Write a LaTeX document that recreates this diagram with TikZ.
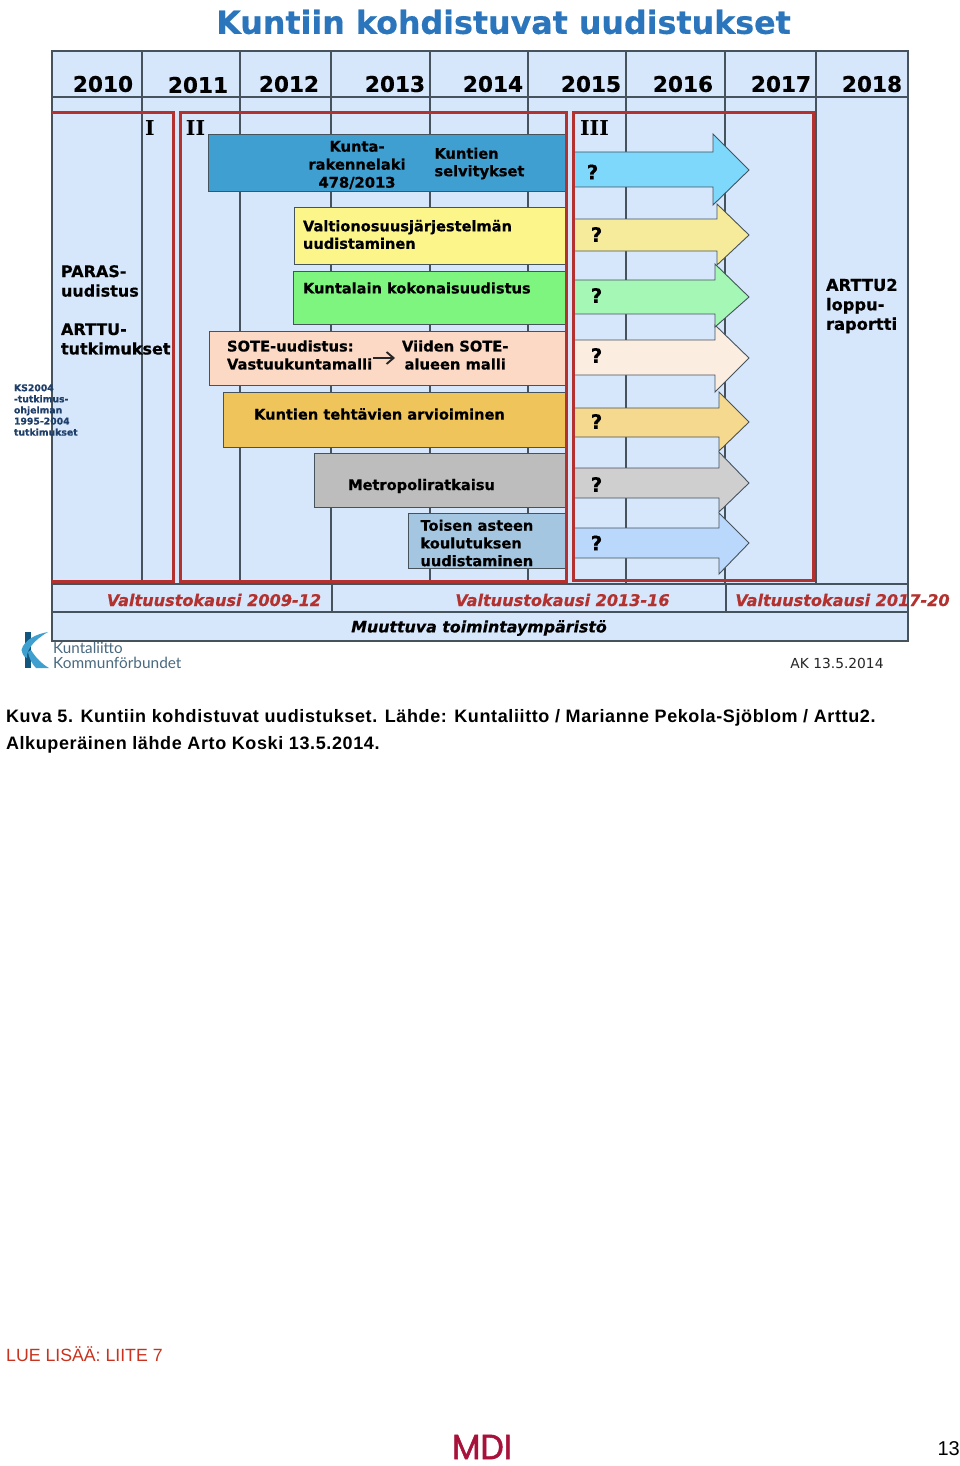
\documentclass[tikz,border=0pt]{standalone}
\usepackage{fontspec}
\usetikzlibrary{arrows.meta}
\setmainfont{DejaVu Sans}[BoldFeatures={FakeBold=0.5},BoldItalicFeatures={FakeBold=0.5}]
\newfontfamily\capfont{Liberation Sans}
\newfontfamily\capbold{Liberation Sans}[LetterSpace=3.4]
\newfontfamily\logofont{Lato}
\newfontfamily\mdifont{Poppins}[FakeBold=1.6,FakeStretch=0.94]
\definecolor{bgblue}{HTML}{D6E7FB}
\definecolor{gridc}{HTML}{46525C}
\definecolor{redf}{HTML}{B3322F}
\definecolor{titlec}{HTML}{2A75BB}
\definecolor{HBlue}{HTML}{3E9FD0}
\definecolor{HYellow}{HTML}{FBF58A}
\definecolor{HGreen}{HTML}{7EF57E}
\definecolor{HPeach}{HTML}{FBD9C5}
\definecolor{HGold}{HTML}{EFC55B}
\definecolor{HGray}{HTML}{BDBDBD}
\definecolor{HLight}{HTML}{A5C6E0}
\definecolor{AOne}{HTML}{7DD8FC}
\definecolor{ATwo}{HTML}{F6EB9B}
\definecolor{AThree}{HTML}{A5F7B5}
\definecolor{AFour}{HTML}{FBEDE0}
\definecolor{AFive}{HTML}{F5D98E}
\definecolor{ASix}{HTML}{CFCFCF}
\definecolor{ASeven}{HTML}{B9D8FB}
\definecolor{KSc}{HTML}{1F3F6B}
\definecolor{LogoD}{HTML}{12557F}
\definecolor{LogoL}{HTML}{3FA0CF}
\definecolor{LogoT}{HTML}{4A6A80}
\definecolor{LueC}{HTML}{C8321E}
\definecolor{MdiC}{HTML}{A8123A}
\newcommand{\fs}[1]{\fontsize{#1}{#1}\selectfont}
\tikzset{
  x=1pt,y=-1pt,
  gridline/.style={draw=gridc,line width=1.1pt},
  redframe/.style={draw=redf,line width=3pt,line join=miter},
  barbox/.style={draw=gridc,line width=0.9pt},
  bigarrow/.style={draw=gridc,line width=0.9pt,line join=miter},
  lab/.style={inner sep=0pt,outer sep=0pt,font=\bfseries\fs{14.6},align=left,text=black},
  yr/.style={inner sep=0pt,outer sep=0pt,font=\bfseries\fs{21.6}},
  qm/.style={inner sep=0pt,outer sep=0pt,font=\bfseries\fs{20}},
  romanlab/.style={inner sep=0pt,outer sep=0pt,font=\fontspec{DejaVu Serif}\bfseries\fs{20.5}},
  kausi/.style={inner sep=0pt,outer sep=0pt,font=\bfseries\itshape\fs{16.1},text=redf},
  captext/.style={inner sep=0pt,outer sep=0pt,anchor=west,font=\capbold\bfseries\fs{18}},
}
\begin{document}
\begin{tikzpicture}
\useasboundingbox (0,0) rectangle (960,1466);
\fill[white] (0,0) rectangle (960,1466);
% title
\node[inner sep=0pt,font=\bfseries\fs{31.7},text=titlec] (title) at (503.5,22) {Kuntiin kohdistuvat uudistukset};
% table
\fill[bgblue] (52,51) rectangle (908,641);
\foreach \xx in {142,240,331,430,528,626,725,816}{\draw[gridline] (\xx,51) -- (\xx,584);}
\draw[gridline] (52,51) rectangle (908,641);
\draw[gridline] (52,97) -- (908,97);
\draw[gridline] (52,584) -- (908,584);
\draw[gridline] (52,612) -- (908,612);
\draw[gridline] (332,584) -- (332,612);
\draw[gridline] (726,584) -- (726,612);
% years
\node[yr] (y10) at (103,84) {2010};
\node[yr] (y11) at (198,85) {2011};
\node[yr] (y12) at (289,84) {2012};
\node[yr] (y13) at (395,84) {2013};
\node[yr] (y14) at (493,84) {2014};
\node[yr] (y15) at (591,84) {2015};
\node[yr] (y16) at (683,84) {2016};
\node[yr] (y17) at (781,84) {2017};
\node[yr] (y18) at (872,84) {2018};
\node[romanlab] (r1) at (150,128) {I};
\node[romanlab] (r2) at (195.5,128) {II};
\node[romanlab] (r3) at (594.5,128.5) {III};
% bars
\path[barbox,fill=HBlue] (208.5,134) rectangle (565,191);
\path[barbox,fill=HYellow] (294,207) rectangle (565,264);
\path[barbox,fill=HGreen] (293,271) rectangle (565,324);
\path[barbox,fill=HPeach] (209,331) rectangle (565,385);
\path[barbox,fill=HGold] (223,392) rectangle (565,447);
\path[barbox,fill=HGray] (314,453) rectangle (565,507);
\path[barbox,fill=HLight] (408,513) rectangle (565,568);
% arrows
\path[bigarrow,fill=AOne] (574,152) -- (713,152) -- (713,134) -- (749,170) -- (713,205) -- (713,187) -- (574,187);
\path[bigarrow,fill=ATwo] (574,219) -- (717,219) -- (717,204) -- (749,235) -- (717,265) -- (717,251) -- (574,251);
\path[bigarrow,fill=AFour] (574,340) -- (715,340) -- (715,325) -- (749,358) -- (715,392) -- (715,375) -- (574,375);
\path[bigarrow,fill=AThree] (574,280) -- (715,280) -- (715,264) -- (749,297) -- (715,327) -- (715,314) -- (574,314);
\path[bigarrow,fill=AFive] (574,408) -- (719,408) -- (719,392) -- (749,422) -- (719,451) -- (719,437) -- (574,437);
\path[bigarrow,fill=ASix] (574,468) -- (719,468) -- (719,452) -- (749,483) -- (719,512) -- (719,498) -- (574,498);
\path[bigarrow,fill=ASeven] (574,528) -- (719,528) -- (719,513) -- (749,543) -- (719,574) -- (719,558) -- (574,558);
% red frames
\draw[redframe] (52,112.5) -- (173.3,112.5) -- (173.3,581) -- (52,581);
\draw[redframe] (180,581) -- (180,112.5) -- (566,112.5) -- (566,581) -- cycle;
\draw[redframe] (573.5,112.5) rectangle (813.5,580.5);
\node[qm] (q1) at (592.5,172) {?};
\node[qm] (q2) at (596.5,234.5) {?};
\node[qm] (q3) at (596.5,295.5) {?};
\node[qm] (q4) at (596.5,355.5) {?};
\node[qm] (q5) at (596.5,421.5) {?};
\node[qm] (q6) at (596.5,484.5) {?};
\node[qm] (q7) at (596.5,543) {?};
% bar labels
\node[lab,align=center,font=\bfseries\fontsize{14.7}{18}\selectfont] (t1) at (357,165) {Kunta-\\rakennelaki\\478/2013};
\node[lab,anchor=west,font=\bfseries\fontsize{14.6}{17.5}\selectfont] (t2) at (434.5,163.5) {Kuntien\\selvitykset};
\node[lab,anchor=west,font=\bfseries\fontsize{14.6}{17.5}\selectfont] (t3) at (303,234.5) {Valtionosuusjärjestelmän\\uudistaminen};
\node[lab,anchor=west] (t4) at (303,288) {Kuntalain kokonaisuudistus};
\node[lab,anchor=west,font=\bfseries\fontsize{14.7}{18}\selectfont] (sotea) at (227,355) {SOTE-uudistus:\\Vastuukuntamalli};
\node[lab,anchor=west,align=center,font=\bfseries\fontsize{14.7}{18}\selectfont] (soteb) at (402,355) {Viiden SOTE-\\alueen malli};
\draw[-{Straight Barb[length=7pt,width=12pt]},line width=1.9pt,shorten <=1pt,shorten >=7pt,black!85] ([yshift=-3pt]sotea.east) -- ([yshift=-3pt]soteb.west);
\node[lab] (t6) at (379.5,414) {Kuntien tehtävien arvioiminen};
\node[lab] (t7) at (421.5,486) {Metropoliratkaisu};
\node[lab,anchor=west,font=\bfseries\fontsize{14.6}{17.7}\selectfont] (t8) at (420.5,543) {Toisen asteen\\koulutuksen\\uudistaminen};
% side labels
\node[lab,anchor=west,font=\bfseries\fontsize{16}{19.5}\selectfont] (paras) at (61,281) {PARAS-\\uudistus};
\node[lab,anchor=west,font=\bfseries\fontsize{16}{19.5}\selectfont] (arttu) at (61,339) {ARTTU-\\tutkimukset};
\node[lab,anchor=west,font=\bfseries\fontsize{16.3}{19.5}\selectfont] (arttub) at (826,306) {ARTTU2\\loppu-\\raportti};
\node[lab,anchor=west,text=KSc,font=\bfseries\fontsize{9.3}{11.1}\selectfont] (ks) at (14,410) {KS2004\\-tutkimus-\\ohjelman\\1995-2004\\tutkimukset};
% bands
\node[kausi] (k1) at (214,600) {Valtuustokausi 2009-12};
\node[kausi] (k2) at (562.5,600) {Valtuustokausi 2013-16};
\node[kausi] (k3) at (842.5,600) {Valtuustokausi 2017-20};
\node[kausi,text=black,font=\bfseries\itshape\fs{15.8}] (muut) at (479,628) {Muuttuva toimintaympäristö};
% logo
\fill[LogoD] (24.5,632) rectangle (31,668);
\fill[LogoL] (48,632) .. controls (36,634) and (24,640) .. (21.5,650) .. controls (23,656) and (25,658) .. (27,658) .. controls (26,650) and (34,640) .. (48,632) -- cycle;
\fill[LogoL] (31,650) .. controls (36,658) and (42,664) .. (49,668) -- (36,668) .. controls (32,664) and (29,658) .. (28,652) -- cycle;
\node[inner sep=0pt,anchor=west,font=\logofont\fs{15.2},text=LogoT] (lg1) at (53,648) {Kuntaliitto};
\node[inner sep=0pt,anchor=west,font=\logofont\fs{15.4},text=LogoT] (lg2) at (53,663) {Kommunförbundet};
\node[inner sep=0pt,font=\fs{13.8},text=black!85] (ak) at (837,663) {AK 13.5.2014};
% caption
\node[captext] (c1) at (6,717.5) {Kuva 5. Kuntiin kohdistuvat uudistukset. Lähde: Kuntaliitto / Marianne Pekola-Sjöblom / Arttu2.};
\node[captext] (c2) at (6,744.5) {Alkuperäinen lähde Arto Koski 13.5.2014.};
\node[inner sep=0pt,anchor=west,font=\capfont\fs{17.7},text=LueC] (lue) at (6,1354.5) {LUE LISÄÄ: LIITE 7};
\node[inner sep=0pt,font=\mdifont\fs{35},text=MdiC] (mdi) at (482,1447) {MDI};
\node[inner sep=0pt,anchor=east,font=\capfont\fs{20}] (pg) at (960,1449) {13};
\end{tikzpicture}
\end{document}
